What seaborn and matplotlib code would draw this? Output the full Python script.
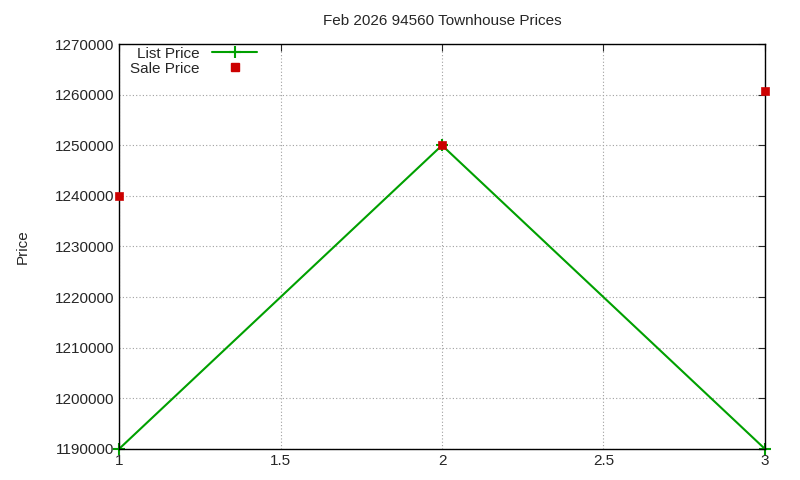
import matplotlib
matplotlib.use("Agg")
import matplotlib.pyplot as plt
from matplotlib.lines import Line2D
import seaborn as sns
import pandas as pd

x = [1, 2, 3]
list_price = [1190000, 1250000, 1190000]
sale_price = [1240000, 1250000, 1260800]
yticks = list(range(1190000, 1270001, 10000))

sns.set_style("white")
plt.rcParams['font.family'] = ['Liberation Sans', 'DejaVu Sans']
fig = plt.figure(figsize=(8, 4.8), dpi=100)
ax = fig.add_axes([0.149, 0.065, 0.807, 0.843])
df = pd.DataFrame({"x": x, "list": list_price, "sale": sale_price})
sns.lineplot(data=df, x="x", y="list", ax=ax, color="#00a000", lw=1.5, legend=False)
ax.plot(df["x"], df["list"], ls="none", marker="+", ms=8, mew=1.5, color="#00a000", clip_on=False)
sns.scatterplot(data=df, x="x", y="sale", ax=ax, color="#cc0000", marker="s",
                s=36, edgecolor="#cc0000", legend=False, zorder=5, clip_on=False)
ax.set_xlim(1, 3)
ax.set_ylim(1190000, 1270000)
ax.set_xticks([1, 1.5, 2, 2.5, 3])
ax.set_xticklabels(["1", "1.5", "2", "2.5", "3"])
ax.set_yticks(yticks)
ax.set_yticklabels([str(v) for v in yticks])
ax.grid(True, color="#a0a0a0", linestyle=(0, (1, 2)), lw=0.8)
ax.tick_params(direction="in", top=True, right=True, labelsize=11, length=5)
for s in ax.spines.values():
    s.set_color("black"); s.set_linewidth(1)
ax.set_xlabel("")
ax.set_ylabel("Price", fontsize=11, labelpad=18)
ax.set_title("Feb 2026 94560 Townhouse Prices", fontsize=11, pad=14)
handles = [Line2D([], [], color="#00a000", lw=1.5, marker="+", ms=8, mew=1.5),
           Line2D([], [], color="#cc0000", ls="none", marker="s", ms=6)]
ax.legend(handles, ["List Price", "Sale Price"], loc="upper left", frameon=False,
          markerfirst=False, fontsize=11, bbox_to_anchor=(0.0, 1.02),
          handlelength=3, labelspacing=0.05, borderaxespad=0.3)
fig.savefig("out.png", dpi=100)
